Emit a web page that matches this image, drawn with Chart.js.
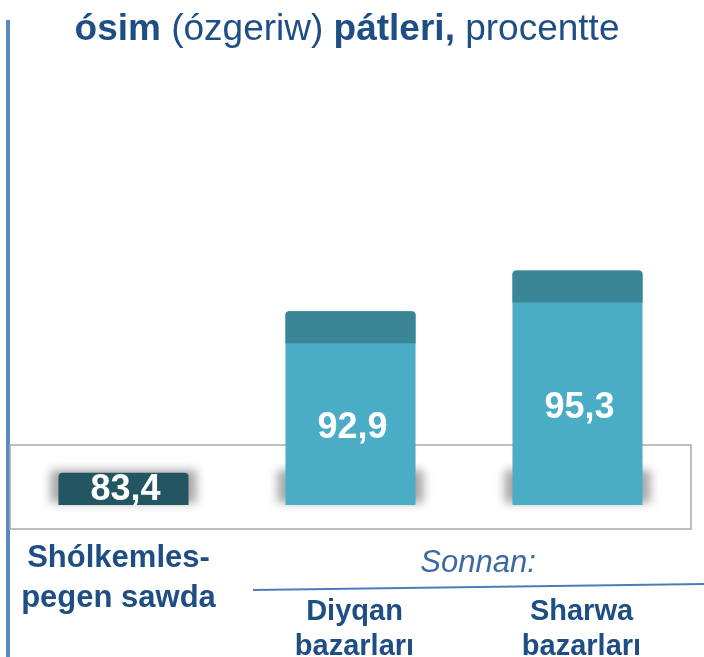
<!DOCTYPE html>
<html>
<head>
<meta charset="utf-8">
<script src="https://cdn.jsdelivr.net/npm/chart.js@4"></script>
<style>
  body { margin: 0; background: #fff; }
  #wrap { width: 704px; height: 657px; position: relative; }
</style>
</head>
<body>
<div id="wrap"><canvas id="chart" width="704" height="657"></canvas></div>
<script>
// data
const categories = [['Shólkemles-', 'pegen sawda'], ['Diyqan', 'bazarları'], ['Sharwa', 'bazarları']]
const values = [83.4, 92.9, 95.3]
const valueLabels = ['83,4', '92,9', '95,3']
const groupLabel = 'Sonnan:'
const titleParts = [
    { text: 'ósim ', bold: true },
    { text: '(ózgeriw) ', bold: false },
    { text: 'pátleri,', bold: true },
    { text: ' procentte', bold: false }
]

const navy = '#1f4e85'
const capH = 32

const decorPlugin = {
    id: 'decor',
    beforeDatasetsDraw(chart) {
        const ctx = chart.ctx
        const meta = chart.getDatasetMeta(0)
        const base = chart.scales.y.getPixelForValue(chart.scales.y.min)

        // left blue rule
        ctx.save()
        ctx.fillStyle = '#5a89c4'
        ctx.fillRect(6, 20, 4, 637)

        // platform box
        ctx.strokeStyle = '#ababab'
        ctx.lineWidth = 1.5
        ctx.strokeRect(10, 445, 681, 84)

        // soft shadows at the bar bases
        ctx.filter = 'blur(5px)'
        ctx.fillStyle = 'rgba(110,110,110,0.6)'
        meta.data.forEach((bar) => {
            ctx.fillRect(bar.x - bar.width / 2 - 8, base - 35, bar.width + 16, 33)
        })
        ctx.restore()
    },
    afterDatasetsDraw(chart) {
        const ctx = chart.ctx
        const meta = chart.getDatasetMeta(0)
        const base = chart.scales.y.getPixelForValue(chart.scales.y.min)

        ctx.save()
        meta.data.forEach((bar, i) => {
            if (i === 0) return
            // darker top face
            ctx.fillStyle = '#3a8596'
            ctx.beginPath()
            ctx.roundRect(bar.x - bar.width / 2, bar.y, bar.width, capH, [4, 4, 0, 0])
            ctx.fill()
        })

        ctx.fillStyle = '#fff'
        ctx.font = 'bold 36px "Liberation Sans", Arial, sans-serif'
        ctx.textAlign = 'center'
        ctx.textBaseline = 'middle'
        meta.data.forEach((bar, i) => {
            const y = i === 0 ? (bar.y + base) / 2 + 1 : (bar.y + capH + base) / 2 + 4
            ctx.fillText(valueLabels[i], bar.x + 2, y)
        })
        ctx.restore()
    },
    afterDraw(chart) {
        const ctx = chart.ctx
        const meta = chart.getDatasetMeta(0)
        ctx.save()

        // title with mixed weights
        const size = 37
        let total = 0
        titleParts.forEach((p) => {
            ctx.font = (p.bold ? 'bold ' : '') + size + 'px "Liberation Sans", Arial, sans-serif'
            p.w = ctx.measureText(p.text).width
            total += p.w
        })
        let x = 347 - total / 2
        ctx.fillStyle = navy
        ctx.textBaseline = 'alphabetic'
        ctx.textAlign = 'left'
        titleParts.forEach((p) => {
            ctx.font = (p.bold ? 'bold ' : '') + size + 'px "Liberation Sans", Arial, sans-serif'
            ctx.fillText(p.text, x, 40)
            x += p.w
        })

        // category names
        ctx.textAlign = 'center'
        ctx.font = 'bold 31px "Liberation Sans", Arial, sans-serif'
        const x0 = meta.data[0].x - 5
        ctx.fillText(categories[0][0], x0, 567)
        ctx.fillText(categories[0][1], x0, 607)

        ctx.font = 'bold 29px "Liberation Sans", Arial, sans-serif'
        for (let i = 1; i < categories.length; i++) {
            const cx = meta.data[i].x + 4
            ctx.fillText(categories[i][0], cx, 620)
            ctx.fillText(categories[i][1], cx, 655)
        }

        // group heading and rule
        ctx.fillStyle = '#3b6aa3'
        ctx.font = 'italic 31px "Liberation Sans", Arial, sans-serif'
        ctx.fillText(groupLabel, 478, 572)
        ctx.strokeStyle = '#4a7ebb'
        ctx.lineWidth = 2
        ctx.beginPath()
        ctx.moveTo(253, 590)
        ctx.lineTo(704, 584)
        ctx.stroke()

        ctx.restore()
    }
}

new Chart(document.getElementById('chart'), {
    type: 'bar',
    data: {
        labels: categories.map((c) => c.join(' ')),
        datasets: [{
            data: values,
            backgroundColor: ['#245563', '#4bacc6', '#4bacc6'],
            borderRadius: { topLeft: 4, topRight: 4 },
            borderSkipped: 'bottom',
            barPercentage: 1,
            categoryPercentage: 0.573
        }]
    },
    options: {
        responsive: false,
        animation: false,
        layout: { padding: { left: 10, right: 13, top: 258.5, bottom: 152 } },
        scales: {
            x: { display: false },
            y: { display: false, min: 81.5, max: 96 }
        },
        plugins: {
            legend: { display: false },
            tooltip: { enabled: false }
        }
    },
    plugins: [decorPlugin]
})
</script>
</body>
</html>
